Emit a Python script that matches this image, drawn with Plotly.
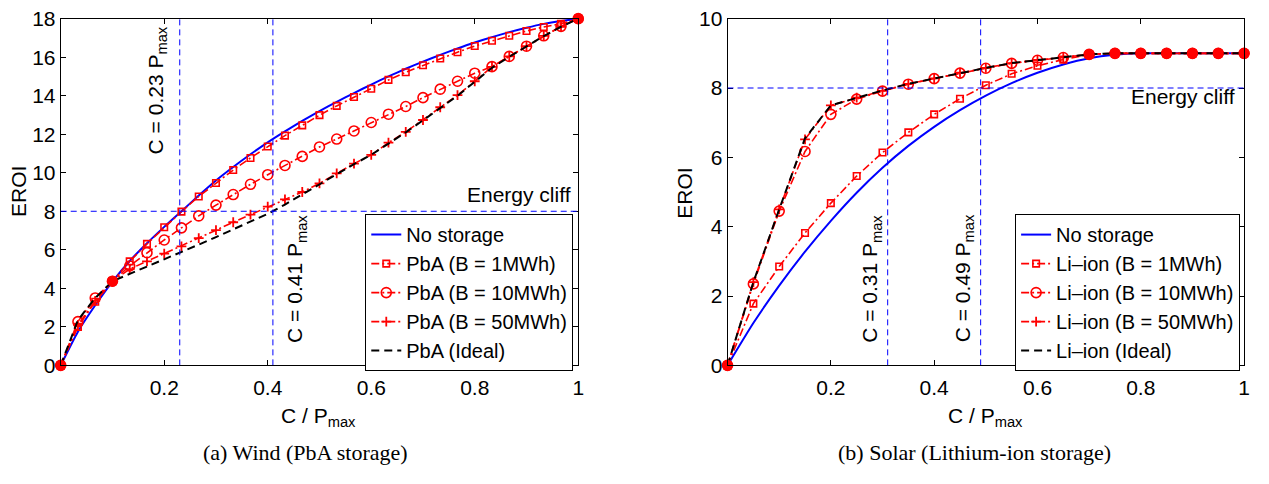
import plotly.graph_objects as go

W, H = 1269, 484

# ---------------- data: (a) Wind, PbA storage ----------------
c_wind = [0, 0.0333, 0.0667, 0.1, 0.1333, 0.1667, 0.2, 0.2333, 0.2667, 0.3,
          0.3333, 0.3667, 0.4, 0.4333, 0.4667, 0.5, 0.5333, 0.5667, 0.6, 0.6333,
          0.6667, 0.7, 0.7333, 0.7667, 0.8, 0.8333, 0.8667, 0.9, 0.9333, 0.9667, 1.0]
wind_none = [0, 1.75, 3.12, 4.35, 5.42, 6.34, 7.19, 8.0, 8.82, 9.6,
             10.3, 10.96, 11.58, 12.15, 12.69, 13.2, 13.68, 14.14, 14.58, 15.0,
             15.4, 15.77, 16.12, 16.45, 16.76, 17.04, 17.3, 17.53, 17.73, 17.88, 18.0]
wind_1 = [0, 2.0, 3.3, 4.37, 5.4, 6.31, 7.17, 7.98, 8.77, 9.47,
          10.14, 10.77, 11.36, 11.93, 12.46, 12.99, 13.47, 13.93, 14.36, 14.82,
          15.22, 15.58, 15.93, 16.26, 16.58, 16.85, 17.11, 17.36, 17.57, 17.74, 18.0]
wind_10 = [0, 2.27, 3.5, 4.37, 5.16, 5.85, 6.51, 7.14, 7.76, 8.32,
           8.87, 9.4, 9.9, 10.38, 10.85, 11.34, 11.75, 12.17, 12.61, 13.04,
           13.44, 13.9, 14.34, 14.75, 15.17, 15.51, 16.04, 16.57, 17.11, 17.6, 18.0]
wind_50 = [0, 2.1, 3.35, 4.37, 5.0, 5.4, 5.8, 6.18, 6.61, 7.02,
           7.43, 7.83, 8.24, 8.62, 9.0, 9.45, 9.97, 10.47, 10.93, 11.56,
           12.12, 12.74, 13.4, 14.03, 14.75, 15.5, 16.04, 16.57, 17.11, 17.6, 18.0]
wind_ideal = [0, 2.35, 3.5, 4.37, 4.75, 5.12, 5.5, 5.88, 6.27, 6.66,
              7.06, 7.46, 7.87, 8.35, 8.87, 9.4, 9.95, 10.45, 10.93, 11.5,
              12.1, 12.72, 13.38, 14.0, 14.72, 15.45, 16.02, 16.55, 17.1, 17.58, 18.0]

# ---------------- data: (b) Solar, Li-ion storage ----------------
c_solar = [0, 0.05, 0.1, 0.15, 0.2, 0.25, 0.3, 0.35, 0.4, 0.45, 0.5,
           0.55, 0.6, 0.65, 0.7, 0.75, 0.8, 0.85, 0.9, 0.95, 1.0]
solar_none = [0, 1.22, 2.3, 3.28, 4.17, 4.98, 5.7, 6.33, 6.88, 7.36, 7.78,
              8.14, 8.44, 8.68, 8.86, 8.96, 9.0, 9.0, 9.0, 9.0, 9.0]
solar_1 = [0, 1.78, 2.85, 3.82, 4.68, 5.46, 6.14, 6.72, 7.24, 7.69, 8.08,
           8.41, 8.64, 8.82, 8.97, 9.0, 9.0, 9.0, 9.0, 9.0, 9.0]
solar_10 = [0, 2.35, 4.45, 6.17, 7.24, 7.68, 7.91, 8.11, 8.27, 8.43, 8.57,
            8.71, 8.8, 8.88, 8.97, 9.0, 9.0, 9.0, 9.0, 9.0, 9.0]
solar_50 = [0, 2.4, 4.5, 6.52, 7.5, 7.72, 7.92, 8.12, 8.28, 8.44, 8.58,
            8.72, 8.81, 8.89, 8.97, 9.0, 9.0, 9.0, 9.0, 9.0, 9.0]
solar_ideal = [0, 2.4, 4.5, 6.55, 7.5, 7.72, 7.93, 8.12, 8.28, 8.44, 8.58,
               8.72, 8.81, 8.89, 8.97, 9.0, 9.0, 9.0, 9.0, 9.0, 9.0]

wind_names = ["No storage", "PbA (B = 1MWh)", "PbA (B = 10MWh)", "PbA (B = 50MWh)", "PbA (Ideal)"]
solar_names = ["No storage", "Li\u2013ion (B = 1MWh)", "Li\u2013ion (B = 10MWh)",
               "Li\u2013ion (B = 50MWh)", "Li\u2013ion (Ideal)"]

x_tickvals = [0.2, 0.4, 0.6, 0.8, 1.0]
x_ticktext = ["0.2", "0.4", "0.6", "0.8", "1"]
wind_yticks = [0, 2, 4, 6, 8, 10, 12, 14, 16, 18]
solar_yticks = [0, 2, 4, 6, 8, 10]

cliff = 8
wind_marks = [0.23, 0.41]
solar_marks = [0.31, 0.49]

SANS = "Liberation Sans, Arial, sans-serif"
SERIF = "Liberation Serif, Times New Roman, serif"
RED = "#ff0000"
BLUE = "#0000ff"
FS = 21

fig = go.Figure()


def add_panel(xa, ya, legend, c, none, s1, s10, s50, ideal, names):
    fig.add_trace(go.Scatter(x=c, y=none, mode="lines", name=names[0], xaxis=xa, yaxis=ya,
                             legend=legend, line=dict(color=BLUE, width=2, shape="spline", smoothing=0.6)))
    fig.add_trace(go.Scatter(x=c, y=s1, mode="lines+markers", name=names[1], xaxis=xa, yaxis=ya,
                             legend=legend, cliponaxis=False,
                             line=dict(color=RED, width=1.6, dash="8px,3px,2px,3px"),
                             marker=dict(symbol="square-open", size=6.5, color=RED, line=dict(width=1.6, color=RED))))
    fig.add_trace(go.Scatter(x=c, y=s10, mode="lines+markers", name=names[2], xaxis=xa, yaxis=ya,
                             legend=legend, cliponaxis=False,
                             line=dict(color=RED, width=1.6, dash="8px,3px,2px,3px"),
                             marker=dict(symbol="circle-open", size=10, color=RED, line=dict(width=1.6, color=RED))))
    fig.add_trace(go.Scatter(x=c, y=s50, mode="lines+markers", name=names[3], xaxis=xa, yaxis=ya,
                             legend=legend, cliponaxis=False,
                             line=dict(color=RED, width=1.6, dash="8px,3px,2px,3px"),
                             marker=dict(symbol="cross-thin", size=7, color=RED, line=dict(width=1.8, color=RED))))
    fig.add_trace(go.Scatter(x=c, y=ideal, mode="lines", name=names[4], xaxis=xa, yaxis=ya,
                             legend=legend, line=dict(color="black", width=2, dash="8px,5px")))
    # where all storage cases coincide, the overlapping markers read as a solid dot
    same = [i for i in range(len(c)) if abs(s1[i] - s10[i]) < 0.05 and abs(s10[i] - s50[i]) < 0.05]
    fig.add_trace(go.Scatter(x=[c[i] for i in same], y=[s10[i] for i in same], mode="markers",
                             showlegend=False, xaxis=xa, yaxis=ya, cliponaxis=False, hoverinfo="skip",
                             marker=dict(symbol="circle", size=11, color=RED)))


add_panel("x", "y", "legend", c_wind, wind_none, wind_1, wind_10, wind_50, wind_ideal, wind_names)
add_panel("x2", "y2", "legend2", c_solar, solar_none, solar_1, solar_10, solar_50, solar_ideal, solar_names)

ref_line = dict(color=BLUE, width=1, dash="6px,4px")
shapes = []
for xa, ya, marks, ymax in [("x", "y", wind_marks, 18), ("x2", "y2", solar_marks, 10)]:
    shapes.append(dict(type="line", xref=xa, yref=ya, x0=0, x1=1, y0=cliff, y1=cliff, line=ref_line))
    for m in marks:
        shapes.append(dict(type="line", xref=xa, yref=ya, x0=m, x1=m, y0=0, y1=ymax, line=ref_line))

ann_font = dict(family=SANS, size=FS, color="black")


def ann(xref, yref, x, y, text, angle=0, xanchor="center", font=ann_font):
    return dict(xref=xref, yref=yref, x=x, y=y, text=text, textangle=angle, showarrow=False,
                xanchor=xanchor, yanchor="middle", font=font)


cap_font = dict(family=SERIF, size=22, color="black")
annotations = [
    ann("x", "y", 0.185, 14.3, "C = 0.23 P<sub>max</sub>", -90),
    ann("x", "y", 0.455, 4.5, "C = 0.41 P<sub>max</sub>", -90),
    ann("x", "y", 0.99, 8.85, "Energy cliff", xanchor="right"),
    ann("x2", "y2", 0.278, 2.5, "C = 0.31 P<sub>max</sub>", -90),
    ann("x2", "y2", 0.457, 2.5, "C = 0.49 P<sub>max</sub>", -90),
    ann("x2", "y2", 0.987, 7.75, "Energy cliff", xanchor="right"),
    # axis titles
    ann("paper", "paper", 18 / W, 1 - 188 / H, "EROI", -90),
    ann("paper", "paper", 688 / W, 1 - 190 / H, "EROI", -90),
    ann("paper", "paper", 320 / W, 1 - 425 / H, "C / P<sub>max</sub>"),
    ann("paper", "paper", 990 / W, 1 - 425 / H, "C / P<sub>max</sub>"),
    # captions
    ann("paper", "paper", 307 / W, 1 - 463 / H, "(a) Wind (PbA storage)", font=cap_font),
    ann("paper", "paper", 979 / W, 1 - 463 / H, "(b) Solar (Lithium-ion storage)", font=cap_font),
]

ydom = [(H - 371) / H, (H - 7) / H]
axis_common = dict(showline=True, linecolor="black", linewidth=1, mirror="ticks", ticks="inside",
                   ticklen=5, tickcolor="black", showgrid=False, zeroline=False,
                   ticklabeloverflow="allow",
                   tickfont=dict(family=SANS, size=FS, color="black"))

legend_common = dict(bgcolor="white", bordercolor="black", borderwidth=1,
                     font=dict(family=SANS, size=20, color="black"),
                     xanchor="right", yanchor="bottom", itemwidth=30, tracegroupgap=0)

fig.update_layout(
    width=W, height=H, margin=dict(l=0, r=0, t=0, b=0),
    paper_bgcolor="white", plot_bgcolor="white",
    xaxis=dict(domain=[61 / W, 581 / W], range=[0, 1], tickvals=x_tickvals, ticktext=x_ticktext,
               anchor="y", ticklabelstandoff=3, **axis_common),
    yaxis=dict(domain=ydom, range=[0, 18], tickvals=wind_yticks, anchor="x", **axis_common),
    xaxis2=dict(domain=[731 / W, 1250 / W], range=[0, 1], tickvals=x_tickvals, ticktext=x_ticktext,
                anchor="y2", ticklabelstandoff=3, **axis_common),
    yaxis2=dict(domain=ydom, range=[0, 10], tickvals=solar_yticks, anchor="x2", **axis_common),
    legend=dict(x=576 / W, y=(H - 377) / H, **legend_common),
    legend2=dict(x=1246 / W, y=(H - 377) / H, **legend_common),
    shapes=shapes,
    annotations=annotations,
    showlegend=True,
)

fig.write_html("out.html")
